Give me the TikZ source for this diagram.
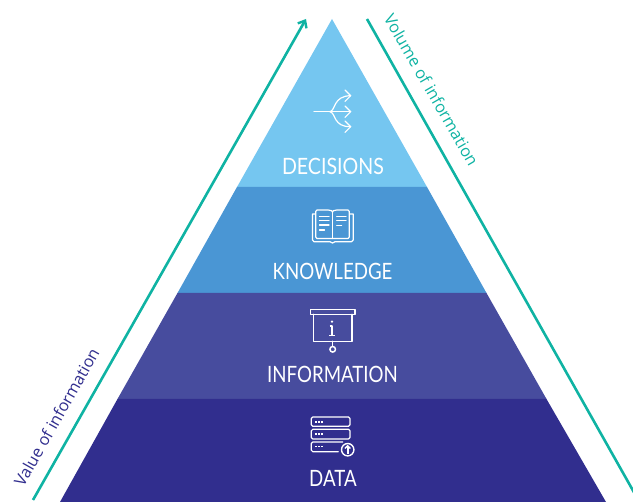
\documentclass[tikz,border=0pt]{standalone}
\usepackage{fontspec}
\setmainfont{Lato}
\newfontfamily\valfont{Open Sans}
\usetikzlibrary{arrows.meta}
\definecolor{dec}{HTML}{75C6F0}
\definecolor{know}{HTML}{4A96D4}
\definecolor{info}{HTML}{474C9E}
\definecolor{datac}{HTML}{312E8E}
\definecolor{teal}{HTML}{0FB3A3}
\tikzset{
  band/.style={fill=#1,draw=none},
  level/.style={text=white,font=\fontsize{22.5}{22}\selectfont,inner sep=0pt,xscale=0.83},
  ico/.style={draw=white,line width=1.2pt,line cap=round,line join=round},
  icothin/.style={draw=white,line width=1.1pt,line cap=round},
  axis/.style={draw=teal,line width=2.6pt},
  side/.style={font=\valfont\fontsize{16.3}{16}\selectfont,inner sep=0pt}
}
\begin{document}
\begin{tikzpicture}[x=1pt,y=-1pt]
\useasboundingbox (0,0) rectangle (633,502);
\clip (0,0) rectangle (633,502);
% pyramid
\fill[band=dec] (332,19) -- (427,187) -- (237,187) -- cycle;
\fill[band=know] (237,187) -- (427,187) -- (486.5,293) -- (177.5,293) -- cycle;
\fill[band=info] (177.5,293) -- (486.5,293) -- (546.5,399) -- (117.5,399) -- cycle;
\fill[band=datac] (117.5,399) -- (546.5,399) -- (606,502) -- (60,502) -- cycle;
% axes
\coordinate (vb) at (33,500);
\coordinate (vt) at (306,19);
\coordinate (wt) at (367,19);
\coordinate (wb) at (640,503);
\draw[axis,-{Straight Barb[length=6pt,width=10pt,line width=2.4pt]}] (vb) -- (vt);
\draw[axis] (wt) -- (wb);
\node[side,text=datac,rotate=60.5] (valuelabel) at (56.5,417) {Value of information};
\node[side,text=teal,rotate=-60] (volumelabel) at (431.5,90) {Volume of information};
% labels
\node[level,xscale=1.05] (decisions) at (333,166.5) {DECISIONS};
\node[level] (knowledge) at (332.5,271) {KNOWLEDGE};
\node[level] (information) at (332.5,374) {INFORMATION};
\node[level] (data) at (333,478) {DATA};
% decisions icon
\draw[ico] (314,111.7) -- (350.7,111.7);
\draw[ico] (330,111.7) .. controls (336,110) and (333,96) .. (350.7,95.7);
\draw[ico] (330,111.7) .. controls (336,113) and (333,127) .. (350.7,126.7);
\draw[ico] (345,90) -- (350.7,95.7) -- (345,101.4);
\draw[ico] (345,106) -- (350.7,111.7) -- (345,117.4);
\draw[ico] (345,121) -- (350.7,126.7) -- (345,132.4);
% book icon
\draw[ico] (332.5,238.5) -- (317,238.5) -- (315.7,237) -- (315.7,211.5) -- (317,210) -- (328,210) .. controls (331,210) and (332.5,211) .. (332.5,212) .. controls (332.5,211) and (334,210) .. (337,210) -- (348,210) -- (349.3,211.5) -- (349.3,237) -- (348,238.5) -- (332.5,238.5);
\draw[ico] (332.5,212) -- (332.5,238.5);
\draw[ico] (315,214) -- (312.5,214) -- (312.5,240) -- (314,241.7) -- (330,241.7) -- (332.5,243) -- (335,241.7) -- (351.5,241.7) -- (353.2,240) -- (353.2,214) -- (350,214);
\foreach \y/\a in {216.7/329,220.7/329,225/329,230/324.5} \draw[icothin] (319.5,\y) -- (\a,\y);
\foreach \y/\a in {216.7/346,220.7/346,225.5/341.7} \draw[icothin] (336.7,\y) -- (\a,\y);
% information icon
\draw[ico,line width=1.5pt] (310.3,309.7) rectangle (355,314.3);
\draw[ico,line width=1.4pt] (313.3,314.3) -- (313.3,341.3) -- (352,341.3) -- (352,314.3);
\draw[ico,line width=1.4pt] (332.7,341.3) -- (332.7,346);
\draw[ico,line width=1.5pt] (332.7,349.3) circle (2.8);
\fill[white] (332,321.7) circle (1.3);
\draw[ico,line width=1.5pt,line cap=butt] (329.5,326) -- (332,326) -- (332,335.5);
\draw[ico,line width=1.4pt,line cap=butt] (329,335.7) -- (335.3,335.7);
% data icon
\draw[ico,rounded corners=1.5pt] (311.3,417) rectangle (350,426.3);
\draw[ico,rounded corners=1.5pt] (311.3,429.3) rectangle (350,439);
\draw[ico,rounded corners=1.5pt] (342.7,442) -- (311.3,442) -- (311.3,451.7) -- (338.3,451.7);
\foreach \y in {421.7,434,446.5} \foreach \x in {316,319,322}
  \fill[white] (\x-1,\y-0.9) rectangle (\x+0.8,\y+0.9);
\draw[ico,line width=1.4pt] (347.7,449.7) circle (6.2);
\draw[ico,line width=1.6pt,line cap=butt] (347.7,454) -- (347.7,446.5);
\draw[ico,line width=1.4pt,line cap=butt] (345,448.5) -- (347.7,445.7) -- (350.4,448.5);
\end{tikzpicture}
\end{document}
